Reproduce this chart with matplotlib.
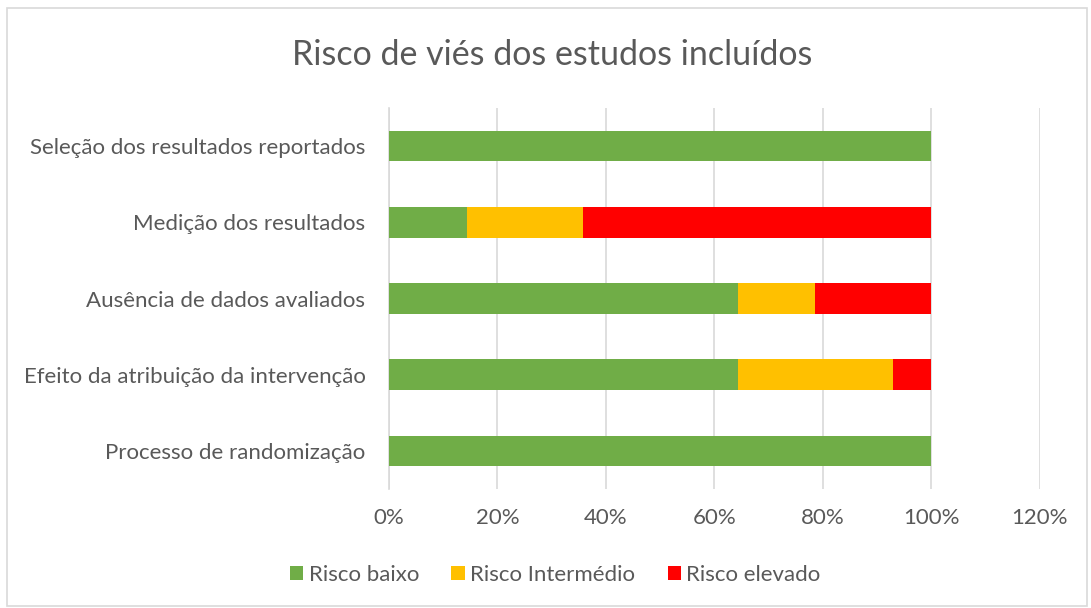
import matplotlib.pyplot as plt
import numpy as np
from matplotlib.patches import Rectangle

plt.rcParams['font.family'] = ['Lato', 'DejaVu Sans']

categories = ['Processo de randomização',
              'Efeito da atribuição da intervenção',
              'Ausência de dados avaliados',
              'Medição dos resultados',
              'Seleção dos resultados reportados']
baixo = [100.0, 64.3, 64.3, 14.3, 100.0]
intermedio = [0.0, 28.6, 14.3, 21.4, 0.0]
elevado = [0.0, 7.1, 21.4, 64.3, 0.0]
series = [('Risco baixo', baixo, '#70AD47'),
          ('Risco Intermédio', intermedio, '#FFC000'),
          ('Risco elevado', elevado, '#FF0000')]
xticks = [0, 20, 40, 60, 80, 100, 120]

txt = '#595959'
fig = plt.figure(figsize=(10.91, 6.08), dpi=100)
fig.patches.append(Rectangle((0.006, 0.004), 0.99, 0.983, transform=fig.transFigure,
                             fill=False, edgecolor='#D9D9D9', lw=1.2))
ax = fig.add_axes([0.3566, 0.1957, 0.5962, 0.6266])

y = np.arange(len(categories))
left = np.zeros(len(categories))
for name, vals, col in series:
    ax.barh(y, vals, left=left, height=0.4, color=col, label=name, zorder=3)
    left += np.array(vals)

ax.set_xlim(0, 120)
ax.set_ylim(-0.5, len(categories) - 0.5)
ax.set_xticks(xticks)
ax.set_xticklabels(['{}%'.format(v) for v in xticks])
ax.set_yticks(y)
ax.set_yticklabels(categories)
ax.tick_params(length=0, labelsize=16, colors=txt)
ax.tick_params(axis='x', pad=14)
ax.tick_params(axis='y', pad=17)
ax.xaxis.grid(True, color='#D9D9D9', lw=1.2, zorder=0)
for s in ['top', 'right', 'bottom']:
    ax.spines[s].set_visible(False)
ax.spines['left'].set_color('#D9D9D9')
ax.spines['left'].set_linewidth(1.2)

fig.text(0.506, 0.91, 'Risco de viés dos estudos incluídos', ha='center', va='center',
         fontsize=24.5, color=txt)
fig.legend(loc='center', bbox_to_anchor=(0.509, 0.054), ncol=3, frameon=False,
           fontsize=16, handlelength=0.6, handleheight=0.6, handletextpad=0.25,
           columnspacing=1.45, labelcolor=txt)

plt.savefig('out.png', dpi=100)
